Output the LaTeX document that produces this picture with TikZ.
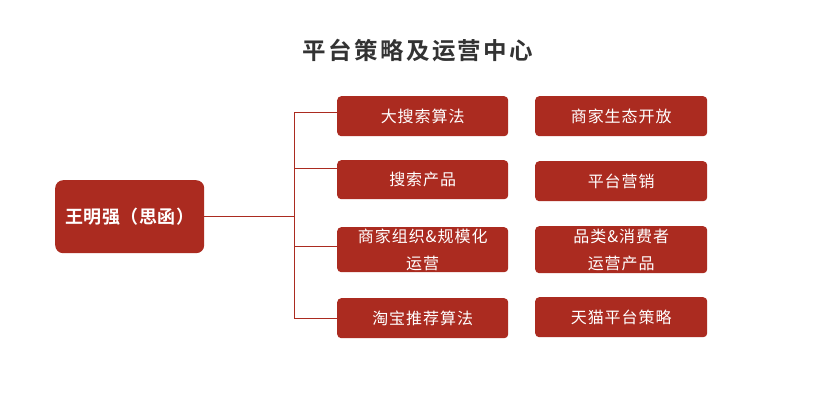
\documentclass[tikz,border=0pt]{standalone}
\usepackage{fontspec}
\setmainfont{Noto Sans CJK SC}
\newfontfamily\titlefont[LetterSpace=10]{Noto Sans CJK SC Bold}
\newfontfamily\leaffont[LetterSpace=6]{Noto Sans CJK SC}
\newfontfamily\mainfont[LetterSpace=3]{Noto Sans CJK SC Bold}
\definecolor{boxred}{HTML}{AB2B20}
\definecolor{titlegray}{HTML}{333333}
\begin{document}
\begin{tikzpicture}[x=1pt,y=-1pt,
  leaf/.style={fill=boxred,draw=none,rounded corners=4pt,text=white,font=\leaffont\fontsize{16}{27}\selectfont,align=center,anchor=north west,inner sep=0pt},
  link/.style={draw=boxred,line width=1pt}]
\useasboundingbox (0,0) rectangle (827,407);
\node[text=titlegray,font=\titlefont\fontsize{23.5}{28}\selectfont] (title) at (418,51) {平台策略及运营中心};
\node[fill=boxred,rounded corners=8pt,text=white,font=\mainfont\fontsize{18}{22}\selectfont,anchor=north west,minimum width=149pt,minimum height=73pt,inner sep=0pt] (main) at (55,180) {王明强（思函）};
% column 1
\node[leaf,minimum width=171pt,minimum height=40pt] (a1) at (337,96) {大搜索算法};
\node[leaf,minimum width=171pt,minimum height=39pt] (a2) at (337,160) {搜索产品};
\node[leaf,minimum width=171pt,minimum height=45pt] (a3) at (337,227) {商家组织\&规模化\\运营};
\node[leaf,minimum width=171pt,minimum height=40pt] (a4) at (337,298) {淘宝推荐算法};
% column 2
\node[leaf,minimum width=172pt,minimum height=40pt] (b1) at (535,96) {商家生态开放};
\node[leaf,minimum width=172pt,minimum height=40pt] (b2) at (535,161) {平台营销};
\node[leaf,minimum width=172pt,minimum height=47pt] (b3) at (535,226) {品类\&消费者\\运营产品};
\node[leaf,minimum width=172pt,minimum height=40pt] (b4) at (535,297) {天猫平台策略};
% connectors
\coordinate (t0) at (294,216);
\coordinate (t1) at (294,112);
\coordinate (t2) at (294,168);
\coordinate (t3) at (294,246);
\coordinate (t4) at (294,318);
\draw[link] (main.east |- t0) -- (t0);
\draw[link] (t1) -- (t4);
\draw[link] (t1) -- (t1 -| a1.west);
\draw[link] (t2) -- (t2 -| a2.west);
\draw[link] (t3) -- (t3 -| a3.west);
\draw[link] (t4) -- (t4 -| a4.west);
\end{tikzpicture}
\end{document}
